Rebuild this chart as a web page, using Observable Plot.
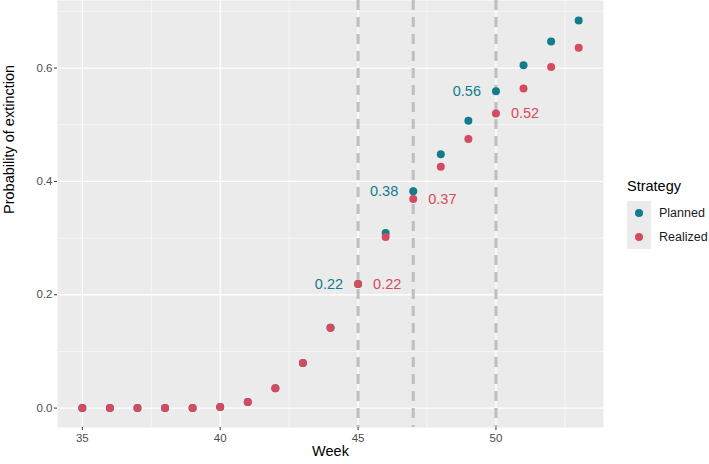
<!DOCTYPE html>
<html>
<head>
<meta charset="utf-8">
<script src="https://cdn.jsdelivr.net/npm/d3@7"></script>
<script src="https://cdn.jsdelivr.net/npm/@observablehq/plot@0.6"></script>
<style>
  html, body { margin: 0; padding: 0; background: #fff; }
  #wrap { position: relative; width: 709px; height: 464px; font-family: "Liberation Sans", Arial, sans-serif; }
  #legend { position: absolute; left: 627px; top: 178px; font-size: 14px; color: #000; }
  #legend .title { font-size: 14.5px; margin-bottom: 7px; }
  #legend .row { display: flex; align-items: center; height: 24px; }
  #legend .key { width: 24px; height: 24px; background: #ebebeb; display: flex; align-items: center; justify-content: center; }
  #legend .dot { width: 8px; height: 8px; border-radius: 50%; }
  #legend .lab { margin-left: 8px; font-size: 12.5px; color: #1a1a1a; }
</style>
</head>
<body>
<div id="wrap"></div>
<script>
const weeks = [35,36,37,38,39,40,41,42,43,44,45,46,47,48,49,50,51,52,53];
const planned = [0,0,0,0,0,0.002,0.0106,0.035,0.0794,0.142,0.219,0.309,0.3825,0.448,0.507,0.559,0.605,0.647,0.684];
const realized = [0,0,0,0,0,0.002,0.0106,0.035,0.0794,0.142,0.219,0.302,0.369,0.426,0.475,0.520,0.564,0.602,0.636];
const strategies = ["Planned","Realized"];
const colors = ["#127C8E","#D44A5E"];
const decisionWeeks = [45,47,50];
const xTicks = [35,40,45,50];
const xMinor = [37.5,42.5,47.5,52.5];
const yTicks = [0,0.2,0.4,0.6];
const yMinor = [0.1,0.3,0.5,0.7];

const data = [];
weeks.forEach((w,i) => {
  data.push({week: w, prob: planned[i], strategy: "Planned"});
  data.push({week: w, prob: realized[i], strategy: "Realized"});
});
const labelsPlanned = decisionWeeks.map(w => ({week: w, prob: planned[weeks.indexOf(w)], strategy: "Planned"}));
const labelsRealized = decisionWeeks.map(w => ({week: w, prob: realized[weeks.indexOf(w)], strategy: "Realized"}));

const xr = 53 - 35, yr = 0.684;
const chart = Plot.plot({
  width: 709,
  height: 464,
  marginLeft: 57,
  marginRight: 106,
  marginTop: 0,
  marginBottom: 37,
  style: {fontFamily: "Liberation Sans, Arial, sans-serif", background: "#fff"},
  x: {domain: [35 - 0.05*xr, 53 + 0.05*xr]},
  y: {domain: [-0.05*yr, yr*1.05 + 0.001]},
  color: {domain: strategies, range: colors},
  marks: [
    Plot.frame({fill: "#ebebeb", stroke: null}),
    Plot.ruleX(xMinor, {stroke: "#fff", strokeWidth: 0.6}),
    Plot.ruleY(yMinor, {stroke: "#fff", strokeWidth: 0.6}),
    Plot.ruleX(xTicks, {stroke: "#fff", strokeWidth: 1.3}),
    Plot.ruleY(yTicks, {stroke: "#fff", strokeWidth: 1.3}),
    Plot.ruleX(decisionWeeks, {stroke: "#bebebe", strokeWidth: 3, strokeDasharray: "10,7"}),
    Plot.axisX({ticks: xTicks, tickSize: 3, tickPadding: 3, stroke: "#333", fontSize: 11.5, color: "#4d4d4d", label: null}),
    Plot.axisY({ticks: yTicks, tickSize: 3, tickPadding: 2, tickFormat: d3.format(".1f"), stroke: "#333", fontSize: 11.5, color: "#4d4d4d", label: null}),
    Plot.text(["Week"], {frameAnchor: "bottom", dy: 28, text: d => d, fontSize: 14.5, fill: "#000"}),
    Plot.text(["Probability of extinction"], {frameAnchor: "left", dx: -48, rotate: -90, text: d => d, fontSize: 14.5, fill: "#000"}),
    Plot.dot(data, {x: "week", y: "prob", fill: "strategy", r: 4, stroke: null}),
    Plot.text(labelsPlanned, {x: "week", y: "prob", text: d => d3.format(".2f")(d.prob), textAnchor: "end", dx: -15, fill: colors[0], fontSize: 14.5}),
    Plot.text(labelsRealized, {x: "week", y: "prob", text: d => d3.format(".2f")(d.prob), textAnchor: "start", dx: 15, fill: colors[1], fontSize: 14.5})
  ]
});
const wrap = document.getElementById("wrap");
wrap.appendChild(chart);
const lg = document.createElement("div");
lg.id = "legend";
lg.innerHTML = `<div class="title">Strategy</div>` + strategies.map((s,i) =>
  `<div class="row"><div class="key"><div class="dot" style="background:${colors[i]}"></div></div><div class="lab">${s}</div></div>`).join("");
wrap.appendChild(lg);
</script>
</body>
</html>
